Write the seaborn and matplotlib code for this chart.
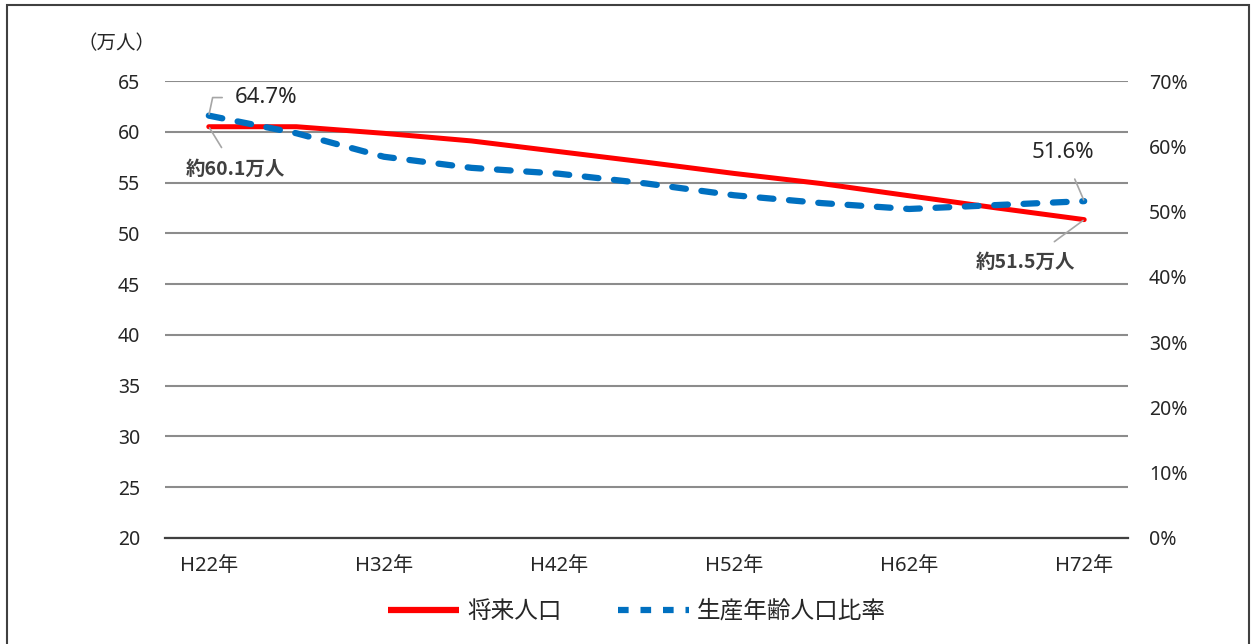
import numpy as np
import matplotlib
matplotlib.use("Agg")
import matplotlib.pyplot as plt
import matplotlib.ticker as mticker
from matplotlib.lines import Line2D
from matplotlib.patches import Rectangle
import seaborn as sns

# ==========================================
# DATA
# ==========================================

# 5-year steps, H22 .. H72 (only every other one gets a tick label)
years = ["H22年", "H27年", "H32年", "H37年", "H42年", "H47年",
         "H52年", "H57年", "H62年", "H67年", "H72年"]
tick_labels = ["H22年", "H32年", "H42年", "H52年", "H62年", "H72年"]

# 将来人口 (万人)
population = [60.5, 60.5, 59.85, 59.1, 58.05, 57.0, 55.9, 54.9, 53.7, 52.5, 51.35]

# 生産年齢人口比率 (ratio)
working_ratio = [0.647, 0.620, 0.584, 0.567, 0.558, 0.543, 0.525, 0.513, 0.504, 0.510, 0.516]

RED = "#FF0000"
BLUE = "#0070C0"
GRID = "#8C8C8C"

# ==========================================
# STYLE
# ==========================================

sns.set_theme(style="white")
# latin glyphs from Noto Sans, japanese falls through to the CJK family
plt.rcParams["font.family"] = ["Noto Sans", "Noto Sans CJK JP", "DejaVu Sans"]

fig = plt.figure(figsize=(12.54, 6.44), dpi=100)
ax = fig.add_axes([0.1316, 0.1646, 0.7679, 0.7096])
ax2 = ax.twinx()

x = np.arange(len(years))

# ==========================================
# LINES
# ==========================================

sns.lineplot(x=x, y=population, ax=ax, color=RED, linewidth=3.6,
             solid_capstyle="round", zorder=3)
sns.lineplot(x=x, y=working_ratio, ax=ax2, color=BLUE, linewidth=4.5,
             linestyle=(0, (2.2, 2.5)), dash_capstyle="round", zorder=3)

# left axis
ax.set_xlim(-0.5, len(years) - 0.5)
ax.set_ylim(20, 65)
ax.set_yticks(np.arange(20, 66, 5))
ax.set_xticks(x[::2])
ax.set_xticklabels(tick_labels)
ax.grid(axis="y", color=GRID, linewidth=1.5)
ax.set_axisbelow(True)
ax.tick_params(axis="both", length=0, labelsize=14, pad=18)
ax.tick_params(axis="x", labelsize=14.5, pad=13)
for side in ["top", "right", "left"]:
    ax.spines[side].set_visible(False)
ax.spines["bottom"].set_color("#404040")
ax.spines["bottom"].set_linewidth(1.6)

# right axis
ax2.set_ylim(0, 0.7)
ax2.set_yticks(np.arange(0, 0.71, 0.1))
ax2.yaxis.set_major_formatter(mticker.PercentFormatter(1.0, decimals=0))
ax2.tick_params(axis="y", length=0, labelsize=14, pad=15)
ax2.grid(False)
for side in ["top", "right", "left", "bottom"]:
    ax2.spines[side].set_visible(False)

ax.text(-0.05, 1.08, "（万人）", transform=ax.transAxes, fontsize=14,
        ha="center", va="center")

# ==========================================
# DATA LABELS
# ==========================================

lead = dict(arrowstyle="-", color="#A6A6A6", linewidth=1.2)
bold_font = ["Noto Sans CJK JP", "DejaVu Sans"]

ax2.annotate("64.7%", xy=(x[0], working_ratio[0]), xytext=(19, 13),
             textcoords="offset points", ha="left", va="center", fontsize=16,
             arrowprops=dict(lead, connectionstyle="angle,angleA=0,angleB=78,rad=0",
                             shrinkA=7, shrinkB=1))
ax.annotate("約60.1万人", xy=(x[0], population[0]), xytext=(19, -31),
            textcoords="offset points", ha="center", va="center", fontsize=14,
            fontweight="bold", color="#404040", family=bold_font,
            arrowprops=dict(lead, shrinkA=8, shrinkB=1))
ax2.annotate("51.6%", xy=(x[-1], working_ratio[-1]), xytext=(-15, 35),
             textcoords="offset points", ha="center", va="center", fontsize=16,
             arrowprops=dict(lead, shrinkA=10, shrinkB=1))
ax.annotate("約51.5万人", xy=(x[-1], population[-1]), xytext=(-42, -31),
            textcoords="offset points", ha="center", va="center", fontsize=14,
            fontweight="bold", color="#404040", family=bold_font,
            arrowprops=dict(lead, shrinkA=10, shrinkB=1))

# ==========================================
# LEGEND + FRAME
# ==========================================

handles = [
    Line2D([], [], color=RED, linewidth=4.5, solid_capstyle="butt"),
    Line2D([], [], color=BLUE, linewidth=4.5, linestyle=(0, (1.7, 1.9)),
           dash_capstyle="butt"),
]
fig.legend(handles, ["将来人口", "生産年齢人口比率"], loc="center",
           bbox_to_anchor=(0.508, 0.05), ncol=2, frameon=False, fontsize=17,
           handlelength=3.0, handletextpad=0.35, columnspacing=2.4)

fig.patches.append(Rectangle((7 / 1254, -0.02), 1242 / 1254, 1 - 4.5 / 644 + 0.02,
                             transform=fig.transFigure, fill=False,
                             edgecolor="#404040", linewidth=1.5))

fig.savefig("out.png", dpi=100)
